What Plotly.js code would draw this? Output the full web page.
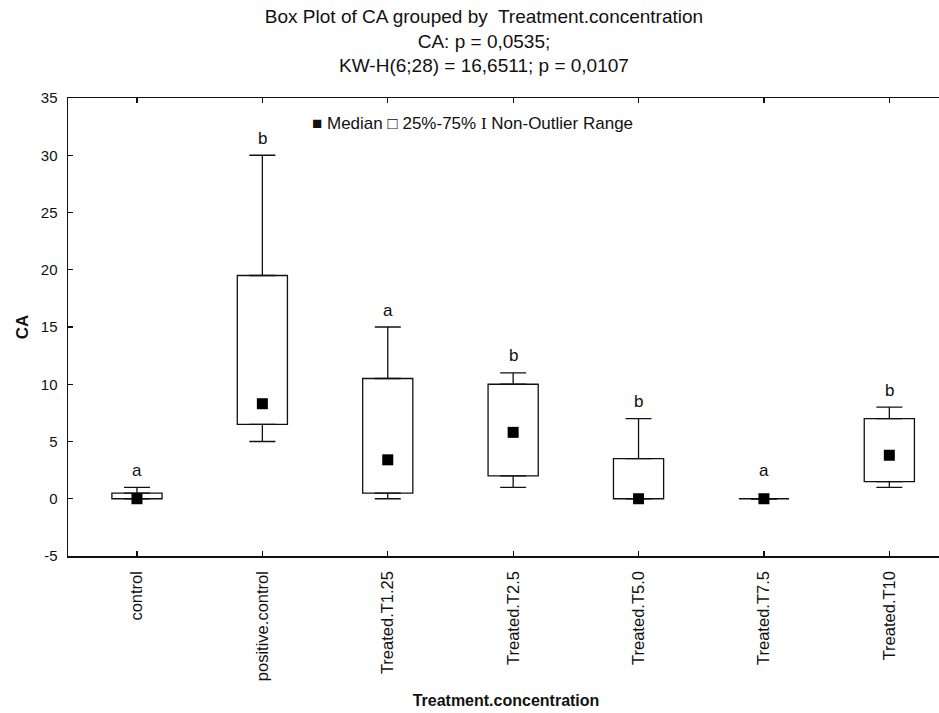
<!DOCTYPE html>
<html>
<head>
<meta charset="utf-8">
<script src="https://cdn.plot.ly/plotly-3.0.1.min.js"></script>
<style>
  html, body { margin: 0; padding: 0; background: #fff; overflow: hidden; }
  #chart { width: 960px; height: 713px; }
</style>
</head>
<body>
<div id="chart"></div>
<script>
// Groups on the x axis
const categories = ['control', 'positive.control', 'Treated.T1.25', 'Treated.T2.5',
                    'Treated.T5.0', 'Treated.T7.5', 'Treated.T10'];

// Summary statistics of CA per group
const medians     = [0,   8.3, 3.4,  5.8,  0,   0, 3.8];
const q1          = [0,   6.5, 0.5,  2,    0,   0, 1.5];
const q3          = [0.5, 19.5, 10.5, 10,  3.5, 0, 7];
const lowerFence  = [0,   5,   0,    1,    0,   0, 1];
const upperFence  = [1,   30,  15,   11,   7,   0, 8];

// Post-hoc grouping letters
const groupLetters = ['a', 'b', 'a', 'b', 'b', 'a', 'b'];

// Y axis ticks (plain hyphen for the negative label)
const yTickValues = [-5, 0, 5, 10, 15, 20, 25, 30, 35];
const yTickLabels = ['-5', '0', '5', '10', '15', '20', '25', '30', '35'];

const ink = '#111111';
const sans = 'Liberation Sans, Arial, sans-serif';

// 25%-75% boxes
const boxes = {
  type: 'bar',
  x: categories,
  base: q1,
  y: q3.map((v, i) => v - q1[i]),
  width: 0.4,
  marker: { color: '#ffffff', line: { color: ink, width: 1.3 } },
  hoverinfo: 'skip',
  showlegend: false
};

// Upper whiskers: from the box top to the upper non-outlier value
const upperWhiskers = {
  type: 'scatter',
  mode: 'markers',
  x: categories,
  y: q3,
  marker: { size: 1, color: 'rgba(0,0,0,0)' },
  error_y: {
    type: 'data', symmetric: false,
    array: upperFence.map((v, i) => v - q3[i]),
    arrayminus: q3.map(() => 0),
    width: 13, thickness: 1.3, color: ink
  },
  hoverinfo: 'skip',
  showlegend: false
};

// Lower whiskers: from the box bottom down to the lower non-outlier value
const lowerWhiskers = {
  type: 'scatter',
  mode: 'markers',
  x: categories,
  y: q1,
  marker: { size: 1, color: 'rgba(0,0,0,0)' },
  error_y: {
    type: 'data', symmetric: false,
    array: q1.map(() => 0),
    arrayminus: q1.map((v, i) => v - lowerFence[i]),
    width: 13, thickness: 1.3, color: ink
  },
  hoverinfo: 'skip',
  showlegend: false
};

// Median markers
const medianMarks = {
  type: 'scatter',
  mode: 'markers',
  x: categories,
  y: medians,
  marker: { symbol: 'square', size: 11, color: '#000' },
  hoverinfo: 'skip',
  showlegend: false
};

// Letters sit just above each upper whisker
const letterNotes = categories.map((c, i) => ({
  x: c,
  y: Math.max(upperFence[i], 1),
  xref: 'x', yref: 'y',
  text: groupLetters[i],
  showarrow: false,
  yshift: 17,
  font: { family: sans, size: 17, color: ink }
}));

// Key describing the symbols
const keyNote = {
  xref: 'paper', yref: 'paper',
  x: 0.276, y: 0.945, xanchor: 'left', yanchor: 'middle',
  showarrow: false,
  text: '■ Median □ 25%-75% <span style="font-family:Liberation Serif, Times New Roman, serif">I</span> Non-Outlier Range',
  font: { family: sans, size: 17, color: ink }
};

const layout = {
  width: 960,
  height: 713,
  margin: { l: 68, r: 16, t: 98, b: 157 },
  paper_bgcolor: '#ffffff',
  plot_bgcolor: '#ffffff',
  showlegend: false,
  barmode: 'overlay',
  title: {
    text: 'Box Plot of CA grouped by  Treatment.concentration<br>CA: p = 0,0535;<br>KW-H(6;28) = 16,6511; p = 0,0107',
    font: { family: sans, size: 19, color: ink },
    xref: 'container', x: 484 / 960,
    yref: 'container', y: 0.968, yanchor: 'top'
  },
  xaxis: {
    type: 'category',
    range: [-0.55, 6.436],
    showline: true, linecolor: ink, linewidth: 1.5,
    mirror: 'ticks',
    ticks: 'inside', ticklen: 5, tickwidth: 1.3, tickcolor: ink,
    tickangle: -90,
    tickfont: { family: sans, size: 16.5, color: ink },
    ticklabelstandoff: 7,
    showgrid: false, zeroline: false,
    title: {
      text: '<b>Treatment.concentration</b>',
      font: { family: sans, size: 16, color: ink },
      standoff: 14
    }
  },
  yaxis: {
    range: [-5, 35],
    tickmode: 'array',
    tickvals: yTickValues,
    ticktext: yTickLabels,
    showline: true, linecolor: ink, linewidth: 1.5,
    mirror: 'ticks',
    ticks: 'inside', ticklen: 5, tickwidth: 1.3, tickcolor: ink,
    tickfont: { family: sans, size: 15, color: ink },
    ticklabelstandoff: 6,
    showgrid: false, zeroline: false,
    title: {
      text: '<b>CA</b>',
      font: { family: sans, size: 17, color: ink },
      standoff: 8
    }
  },
  annotations: letterNotes.concat([keyNote])
};

Plotly.newPlot('chart', [boxes, upperWhiskers, lowerWhiskers, medianMarks], layout,
  { displayModeBar: false, staticPlot: true });
</script>
</body>
</html>
